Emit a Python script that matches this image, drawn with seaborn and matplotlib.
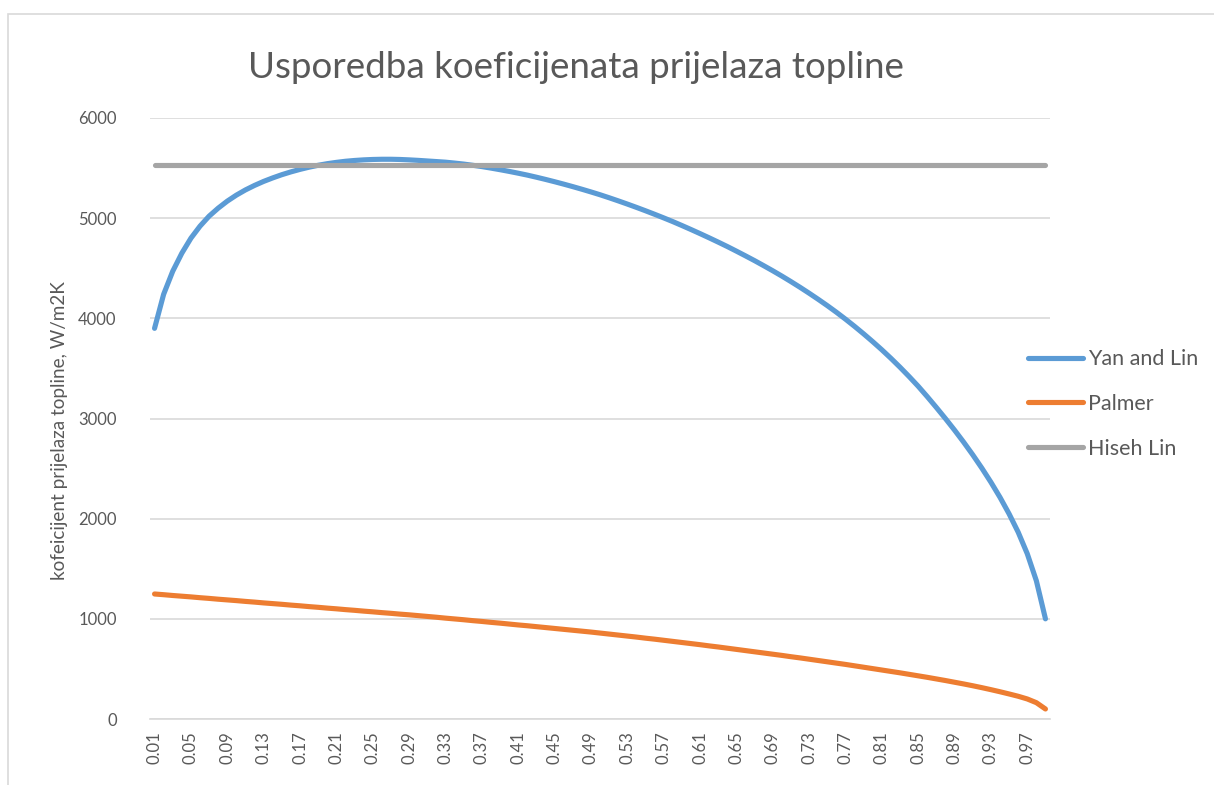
import matplotlib
matplotlib.use("Agg")
import matplotlib.pyplot as plt
import seaborn as sns
import pandas as pd
from matplotlib.patches import Rectangle

categories = [f"{i / 100:.2f}" for i in range(1, 100)]

yan_and_lin = [
    3900, 4240, 4470, 4650, 4800, 4920, 5020, 5100, 5170, 5230,
    5282, 5327, 5367, 5402, 5434, 5462, 5487, 5509, 5528, 5544,
    5557, 5568, 5576, 5582, 5586, 5588, 5588, 5586, 5582, 5577,
    5571, 5565, 5559, 5550, 5540, 5528, 5515, 5500, 5484, 5467,
    5449, 5430, 5409, 5387, 5364, 5340, 5315, 5289, 5262, 5234,
    5204, 5173, 5141, 5108, 5074, 5039, 5003, 4966, 4927, 4887,
    4846, 4804, 4761, 4717, 4671, 4624, 4576, 4526, 4475, 4422,
    4367, 4310, 4251, 4190, 4127, 4061, 3992, 3920, 3845, 3767,
    3686, 3601, 3512, 3419, 3322, 3218, 3110, 2999, 2884, 2764,
    2638, 2505, 2364, 2213, 2048, 1865, 1650, 1380, 1000,
]

palmer = [
    1248, 1241, 1233, 1226, 1219, 1211, 1204, 1196, 1189, 1182,
    1174, 1167, 1159, 1152, 1145, 1137, 1130, 1122, 1115, 1107,
    1100, 1092, 1085, 1077, 1070, 1062, 1055, 1047, 1040, 1032,
    1024, 1016, 1007, 999, 991, 982, 974, 965, 957, 948,
    939, 931, 922, 913, 904, 895, 886, 877, 868, 858,
    848, 838, 828, 818, 807, 797, 786, 775, 764, 753,
    742, 730, 719, 707, 695, 683, 671, 659, 647, 635,
    622, 610, 597, 584, 571, 558, 545, 531, 517, 503,
    489, 475, 461, 446, 431, 416, 400, 384, 367, 350,
    332, 313, 293, 272, 250, 227, 200, 163, 100,
]

hiseh_lin = [5530] * len(categories)

series_names = ["Yan and Lin", "Palmer", "Hiseh Lin"]
series_colors = ["#5B9BD5", "#ED7D31", "#A5A5A5"]

title_text = "Usporedba koeficijenata prijelaza topline"
ylabel_text = "kofeicijent prijelaza topline, W/m2K"
yticks = [0, 1000, 2000, 3000, 4000, 5000, 6000]

frames = []
for name, vals in zip(series_names, [yan_and_lin, palmer, hiseh_lin]):
    frames.append(pd.DataFrame({"x": categories, "value": vals, "series": name}))
df = pd.concat(frames, ignore_index=True)

sns.set_theme(style="white")
plt.rcParams["font.family"] = ["Lato", "DejaVu Sans"]
plt.rcParams["lines.solid_capstyle"] = "round"

W, H = 1214, 785
fig = plt.figure(figsize=(W / 100, H / 100), dpi=100)
ax = fig.add_axes([150 / W, 1 - 719 / H, 900 / W, (719 - 118) / H])

sns.lineplot(data=df, x="x", y="value", hue="series", hue_order=series_names,
             palette=series_colors, linewidth=3.7, sort=False, ax=ax, legend=False)

ax.set_xlim(-0.5, len(categories) - 0.5)
ax.set_ylim(0, 6000)
ax.set_yticks(yticks)
ax.set_yticklabels([str(v) for v in yticks])
ax.set_xticks(range(0, len(categories), 4))
ax.set_xticklabels(categories[::4], rotation=90)
ax.tick_params(axis="both", length=0, colors="#595959", labelsize=12)
ax.tick_params(axis="x", pad=9)
ax.tick_params(axis="y", pad=24)
ax.yaxis.grid(True, color="#D9D9D9", linewidth=1.2)
ax.set_axisbelow(True)
for s in ["top", "right", "left"]:
    ax.spines[s].set_visible(False)
ax.spines["bottom"].set_color("#D9D9D9")
ax.spines["bottom"].set_linewidth(1.2)
ax.set_xlabel("")
ax.set_ylabel(ylabel_text, color="#595959", fontsize=13.6)
ax.yaxis.set_label_coords((68 - 150) / 900, 1 - (431 - 118) / 601)

fig.text(576 / W, 1 - 68 / H, title_text, ha="center", va="center",
         fontsize=26.5, color="#595959")

handles = [plt.Line2D([], [], color=c, linewidth=3.7) for c in series_colors]
fig.legend(handles, series_names, loc="center left",
           bbox_to_anchor=(1028 / W, 1 - 404 / H), frameon=False,
           fontsize=15.5, labelcolor="#595959", handlelength=2.55,
           handletextpad=0.25, labelspacing=1.15, borderpad=0, borderaxespad=0)

fig.patches.append(Rectangle((8 / W, -0.1), 1.2, 1 - 14 / H + 0.1,
                             transform=fig.transFigure, fill=False,
                             edgecolor="#D9D9D9", linewidth=1.2))

fig.savefig("out.png", dpi=100)
